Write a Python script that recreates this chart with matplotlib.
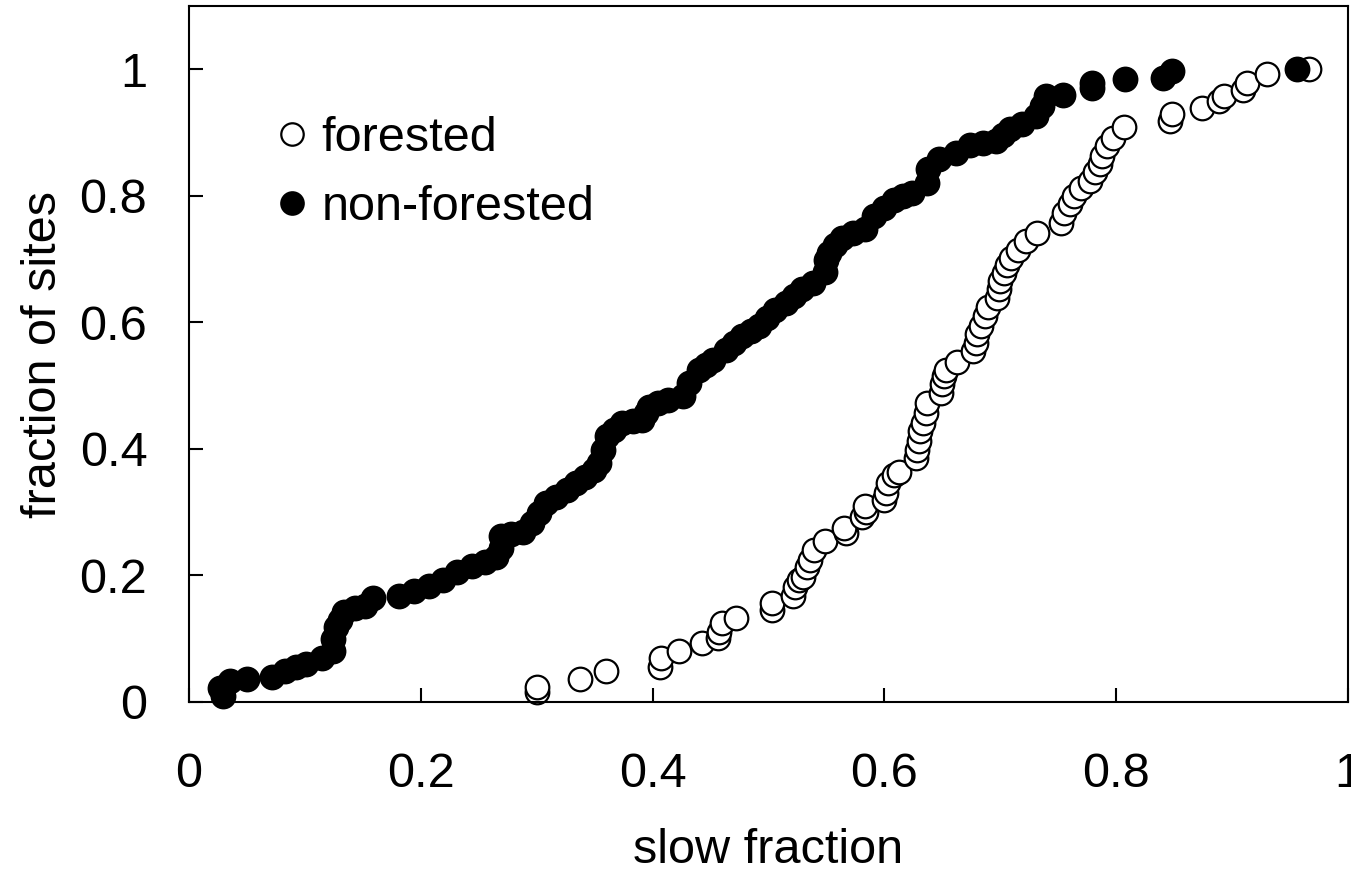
import matplotlib
matplotlib.use("Agg")
import matplotlib.pyplot as plt

plt.rcParams['font.family'] = ['Liberation Sans', 'DejaVu Sans']

# forested sites (open circles)
forested_x = [0.300, 0.300, 0.337, 0.360, 0.406, 0.407, 0.423, 0.443, 0.456, 0.457,
              0.460, 0.472, 0.503, 0.503, 0.521, 0.523, 0.526, 0.530, 0.533, 0.536,
              0.539, 0.549, 0.567, 0.565, 0.581, 0.584, 0.583, 0.600, 0.601, 0.603,
              0.608, 0.613, 0.627, 0.628, 0.630, 0.631, 0.633, 0.636, 0.637, 0.649,
              0.650, 0.651, 0.653, 0.663, 0.676, 0.679, 0.680, 0.683, 0.687, 0.689,
              0.697, 0.699, 0.700, 0.703, 0.706, 0.709, 0.715, 0.722, 0.732, 0.752,
              0.755, 0.760, 0.764, 0.770, 0.777, 0.782, 0.786, 0.788, 0.792, 0.797,
              0.807, 0.846, 0.848, 0.874, 0.889, 0.893, 0.909, 0.913, 0.930, 0.966]
forested_y = [0.016, 0.024, 0.037, 0.049, 0.056, 0.069, 0.081, 0.093, 0.101, 0.111,
              0.125, 0.133, 0.146, 0.157, 0.167, 0.182, 0.193, 0.198, 0.214, 0.225,
              0.240, 0.254, 0.267, 0.275, 0.293, 0.300, 0.309, 0.320, 0.330, 0.346,
              0.358, 0.364, 0.386, 0.399, 0.412, 0.428, 0.441, 0.457, 0.473, 0.488,
              0.502, 0.515, 0.525, 0.538, 0.554, 0.568, 0.581, 0.594, 0.610, 0.625,
              0.639, 0.652, 0.665, 0.678, 0.691, 0.702, 0.715, 0.728, 0.742, 0.757,
              0.773, 0.787, 0.800, 0.812, 0.824, 0.837, 0.850, 0.863, 0.879, 0.892,
              0.908, 0.918, 0.929, 0.939, 0.950, 0.958, 0.968, 0.979, 0.992, 1.000]

# non-forested sites (filled circles)
nonforested_x = [0.029, 0.027, 0.035, 0.050, 0.072, 0.083, 0.092, 0.101, 0.115, 0.124,
                 0.124, 0.127, 0.130, 0.134, 0.143, 0.152, 0.159, 0.181, 0.194, 0.207,
                 0.219, 0.231, 0.244, 0.255, 0.265, 0.269, 0.269, 0.278, 0.288, 0.296,
                 0.302, 0.308, 0.317, 0.326, 0.334, 0.342, 0.349, 0.354, 0.357, 0.361,
                 0.367, 0.374, 0.383, 0.391, 0.394, 0.397, 0.405, 0.413, 0.426, 0.431,
                 0.440, 0.446, 0.452, 0.463, 0.470, 0.477, 0.485, 0.492, 0.499, 0.506,
                 0.515, 0.522, 0.529, 0.538, 0.549, 0.550, 0.552, 0.557, 0.563, 0.573,
                 0.583, 0.591, 0.600, 0.608, 0.616, 0.624, 0.637, 0.638, 0.647, 0.662,
                 0.674, 0.685, 0.696, 0.702, 0.708, 0.719, 0.731, 0.736, 0.739, 0.754,
                 0.779, 0.779, 0.808, 0.840, 0.848, 0.956]
nonforested_y = [0.010, 0.022, 0.033, 0.037, 0.040, 0.049, 0.055, 0.060, 0.070, 0.080,
                 0.100, 0.118, 0.130, 0.143, 0.148, 0.152, 0.164, 0.168, 0.176, 0.184,
                 0.193, 0.206, 0.215, 0.221, 0.229, 0.243, 0.262, 0.265, 0.268, 0.283,
                 0.298, 0.314, 0.324, 0.335, 0.346, 0.356, 0.366, 0.378, 0.399, 0.420,
                 0.430, 0.441, 0.444, 0.446, 0.456, 0.467, 0.473, 0.478, 0.483, 0.504,
                 0.525, 0.533, 0.541, 0.557, 0.568, 0.578, 0.586, 0.594, 0.607, 0.620,
                 0.631, 0.641, 0.652, 0.662, 0.680, 0.699, 0.710, 0.722, 0.734, 0.741,
                 0.747, 0.768, 0.781, 0.794, 0.800, 0.805, 0.821, 0.842, 0.858, 0.868,
                 0.881, 0.884, 0.887, 0.896, 0.905, 0.913, 0.926, 0.942, 0.958, 0.960,
                 0.971, 0.979, 0.984, 0.987, 0.997, 1.000]

ticks = [0, 0.2, 0.4, 0.6, 0.8, 1.0]
tick_labels = ['0', '0.2', '0.4', '0.6', '0.8', '1']

fs = 35

fig = plt.figure(figsize=(13.51, 8.73), dpi=100)
ax = fig.add_axes([0.1399, 0.1959, 0.8579, 0.7972])

ax.plot(forested_x, forested_y, 'o', ms=17, mfc='white', mec='black', mew=1.6,
        ls='none', label='forested', clip_on=False)
ax.plot(nonforested_x, nonforested_y, 'o', ms=17, mfc='black', mec='black', mew=1.6,
        ls='none', label='non-forested', clip_on=False)

ax.set_xlim(0, 1)
ax.set_ylim(0, 1.1)
ax.set_xticks(ticks)
ax.set_xticklabels(tick_labels)
ax.set_yticks(ticks)
ax.set_yticklabels(tick_labels)
ax.tick_params(direction='in', length=10, width=1.5, labelsize=fs, top=False, right=False)
ax.tick_params(axis='x', pad=36)
ax.tick_params(axis='y', pad=30)
for s in ax.spines.values():
    s.set_linewidth(1.5)

ax.set_xlabel('slow fraction', fontsize=fs, labelpad=22)
ax.set_ylabel('fraction of sites', fontsize=fs, labelpad=10)

leg = ax.legend(loc='upper left', bbox_to_anchor=(0.062, 0.87), frameon=False,
                fontsize=fs, handlelength=0.5, handletextpad=0.35, labelspacing=0.5,
                borderaxespad=0, markerscale=0.95)

fig.savefig('out.png', dpi=100)
